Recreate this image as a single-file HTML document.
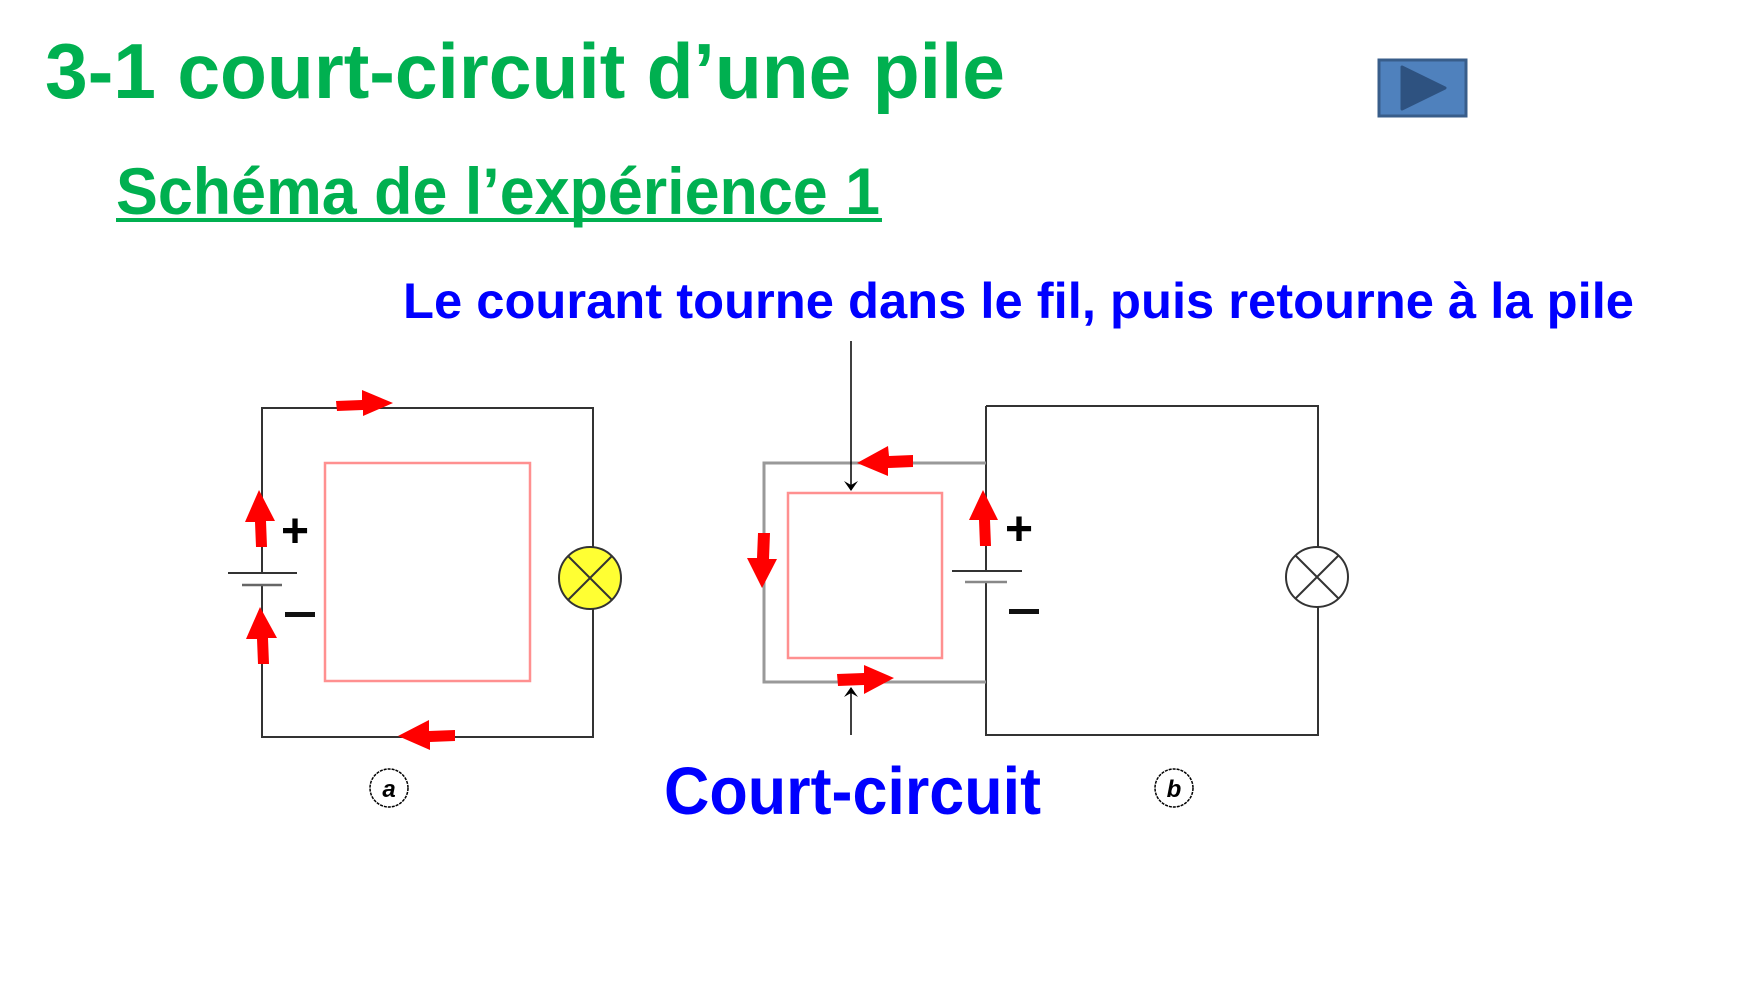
<!DOCTYPE html>
<html><head><meta charset="utf-8"><style>
html,body{margin:0;padding:0;background:#fff;}
svg{display:block;}
text{font-family:"Liberation Sans",sans-serif;font-weight:bold;}
</style></head><body>
<svg width="1757" height="988" viewBox="0 0 1757 988" xmlns="http://www.w3.org/2000/svg">
<defs>
<marker id="bh" markerWidth="10" markerHeight="14" refX="9" refY="7" orient="auto" markerUnits="userSpaceOnUse">
<path d="M0,0 L10,7 L0,14 L4,7 Z" fill="#000"/></marker>
</defs>
<text x="45" y="98" font-size="78" fill="#00B050" textLength="960" lengthAdjust="spacingAndGlyphs">3-1 court-circuit d’une pile</text>
<text x="116" y="214" font-size="66" fill="#00B050" textLength="764" lengthAdjust="spacingAndGlyphs">Schéma de l’expérience 1</text>
<rect x="116" y="218" width="766" height="4" fill="#00B050"/>
<text x="403" y="318" font-size="50" fill="#0000FF" textLength="1231" lengthAdjust="spacingAndGlyphs">Le courant tourne dans le fil, puis retourne à la pile</text>
<text x="664" y="814" font-size="67" fill="#0000FF" textLength="377" lengthAdjust="spacingAndGlyphs">Court-circuit</text>
<rect x="1379" y="60" width="87" height="56" fill="#4F81BD" stroke="#385D8A" stroke-width="3"/>
<path d="M1402,67 L1445,88 L1402,109 Z" fill="#2E5280" stroke="#2E5280" stroke-width="3" stroke-linejoin="round"/>

<!-- Circuit a -->
<g fill="none">
<path d="M262,573 V408 H593 V547 M593,609 V737 H262 V585" stroke="#333" stroke-width="2"/>
<rect x="325" y="463" width="205" height="218" stroke="#FF9090" stroke-width="2.5"/>
<line x1="228" y1="573" x2="297" y2="573" stroke="#333" stroke-width="2"/>
<line x1="242" y1="585" x2="282" y2="585" stroke="#666" stroke-width="2.5"/>
<circle cx="590" cy="578" r="31" fill="#FFFF33" stroke="#333" stroke-width="2"/>
<path d="M568,556 L612,600 M612,556 L568,600" stroke="#333" stroke-width="2"/>
</g>
<text x="281" y="547" font-size="48" font-weight="normal" fill="#000">+</text>
<rect x="285" y="612" width="30" height="5" fill="#111"/>
<circle cx="389" cy="788" r="19" fill="none" stroke="#000" stroke-width="1.5" stroke-dasharray="3,1"/>
<text x="389" y="797" font-size="24" font-style="italic" text-anchor="middle" fill="#000">a</text>
<g fill="#FF0000">
<path d="M336,401 L362,400 L362,390 L393,403 L363,416 L363,410 L337,411 Z"/>
<path d="M256,547 L255,522 L245,522 L259,490 L275,521 L266,521 L267,547 Z"/>
<path d="M258,664 L257,639 L246,639 L260,607 L277,638 L268,638 L269,664 Z"/>
<path d="M455,730 L429,731 L429,720 L398,736 L430,750 L430,742 L455,741 Z"/>
</g>

<!-- Circuit b -->
<g fill="none">
<path d="M986,406 H1318 V735 H986 V582 M986,571 V406" stroke="#333" stroke-width="2"/>
<path d="M986,463 H764 V682 H986" stroke="#999" stroke-width="3"/>
<rect x="788" y="493" width="154" height="165" stroke="#FF9090" stroke-width="2.5"/>
<line x1="952" y1="571" x2="1022" y2="571" stroke="#333" stroke-width="2"/>
<line x1="965" y1="582" x2="1007" y2="582" stroke="#888" stroke-width="2.5"/>
<ellipse cx="1317" cy="577" rx="31" ry="30" fill="#fff" stroke="#333" stroke-width="2"/>
<path d="M1295,555 L1339,599 M1339,555 L1295,599" stroke="#333" stroke-width="2"/>
<line x1="851" y1="341" x2="851" y2="490" stroke="#000" stroke-width="1.5" marker-end="url(#bh)"/>
<line x1="851" y1="735" x2="851" y2="688" stroke="#000" stroke-width="1.5" marker-end="url(#bh)"/>
</g>
<text x="1005" y="545" font-size="48" font-weight="normal" fill="#000">+</text>
<rect x="1009" y="609" width="30" height="5" fill="#111"/>
<circle cx="1174" cy="788" r="19" fill="none" stroke="#000" stroke-width="1.5" stroke-dasharray="3,1"/>
<text x="1174" y="797" font-size="24" font-style="italic" text-anchor="middle" fill="#000">b</text>
<g fill="#FF0000">
<path d="M913,455 L889,456 L888,446 L857,463 L888,476 L888,468 L913,467 Z"/>
<path d="M758,533 L757,558 L747,558 L762,588 L777,559 L769,559 L770,533 Z"/>
<path d="M980,546 L979,520 L969,520 L983,490 L998,520 L990,520 L991,546 Z"/>
<path d="M837,674 L864,673 L864,665 L894,678 L864,694 L864,685 L838,686 Z"/>
</g>
</svg>
</body></html>
